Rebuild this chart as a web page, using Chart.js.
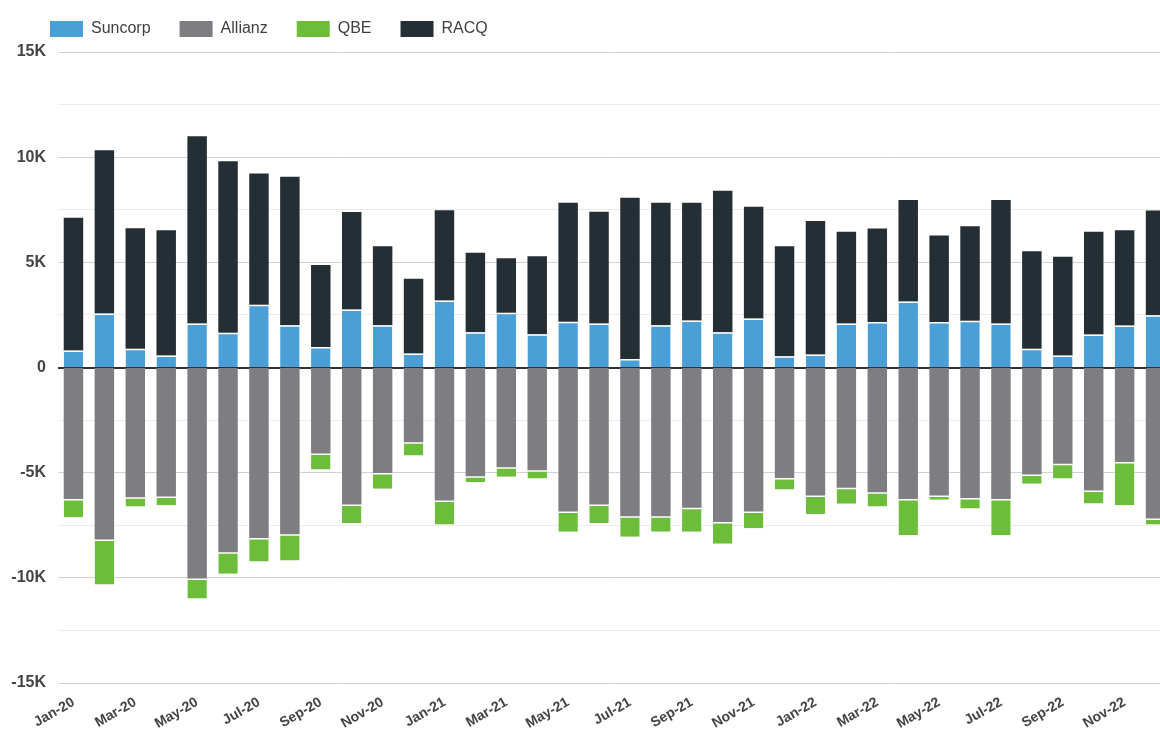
<!DOCTYPE html>
<html>
<head>
<meta charset="utf-8">
<script src="https://cdn.jsdelivr.net/npm/chart.js@4.4.1/dist/chart.umd.min.js"></script>
<style>
  html, body { margin: 0; padding: 0; background: #ffffff; overflow: hidden; }
  #wrap { position: relative; width: 1171px; height: 729px; }
</style>
</head>
<body>
<div id="wrap"><canvas id="c" width="1171" height="729"></canvas></div>
<script>
const categories = [
  'Jan-20','Feb-20','Mar-20','Apr-20','May-20','Jun-20','Jul-20','Aug-20','Sep-20','Oct-20','Nov-20','Dec-20',
  'Jan-21','Feb-21','Mar-21','Apr-21','May-21','Jun-21','Jul-21','Aug-21','Sep-21','Oct-21','Nov-21','Dec-21',
  'Jan-22','Feb-22','Mar-22','Apr-22','May-22','Jun-22','Jul-22','Aug-22','Sep-22','Oct-22','Nov-22','Dec-22'
];
const suncorp = [810,2570,890,570,2090,1650,2980,2010,980,2760,2010,670,
  3190,1680,2600,1580,2170,2090,410,2010,2230,1680,2330,540,
  620,2090,2160,3140,2160,2220,2090,890,570,1570,2000,2490];
const allianz = [-6250,-8180,-6170,-6130,-10030,-8780,-8110,-7930,-4090,-6510,-5010,-3550,
  -6320,-5170,-4740,-4880,-6850,-6510,-7070,-7070,-6670,-7340,-6850,-5250,
  -6090,-5720,-5930,-6250,-6090,-6200,-6250,-5090,-4580,-5850,-4490,-7180];
const qbe = [-870,-2140,-440,-420,-950,-1030,-1110,-1240,-760,-880,-760,-630,
  -1150,-280,-460,-400,-960,-880,-980,-740,-1140,-1040,-790,-550,
  -870,-760,-680,-1720,-200,-500,-1720,-440,-700,-620,-2060,-290];
const racq = [6310,7760,5730,5960,8910,8160,6240,7060,3890,4630,3760,3550,
  4290,3770,2600,3710,5660,5310,7660,5820,5600,6720,5310,5230,
  6340,4360,4450,4820,4120,4500,5870,4640,4690,4880,4530,4980];
const yMin = -15000, yMax = 15000, yStep = 2500;

const colors = { suncorp: '#4a9fd6', allianz: '#7e7d82', qbe: '#6cbd3a', racq: '#242e35' };

function tickLabel(v) {
  if (v % 5000 !== 0) return '';
  if (v === 0) return '0';
  return (v / 1000) + 'K';
}

// shifts the library-drawn legend to the right so it lines up with the plot
const legendOffset = {
  id: 'legendOffset',
  afterLayout(chart) {
    if (chart.legend) { chart.legend.left += 21; chart.legend.right += 21; }
  }
};

new Chart(document.getElementById('c'), {
  type: 'bar',
  data: {
    labels: categories,
    datasets: [
      { label: 'Suncorp', data: suncorp, backgroundColor: colors.suncorp, borderColor: '#ffffff', borderWidth: { top: 1.5 }, borderSkipped: false },
      { label: 'Allianz', data: allianz, backgroundColor: colors.allianz, borderWidth: 0 },
      { label: 'QBE', data: qbe, backgroundColor: colors.qbe, borderColor: '#ffffff', borderWidth: { top: 1.5 }, borderSkipped: false },
      { label: 'RACQ', data: racq, backgroundColor: colors.racq, borderWidth: 0 }
    ]
  },
  plugins: [legendOffset],
  options: {
    responsive: false,
    animation: false,
    layout: { padding: { left: 0, top: -8, right: 0, bottom: 0 } },
    datasets: { bar: { categoryPercentage: 1, barPercentage: 0.63 } },
    plugins: {
      tooltip: { enabled: false },
      legend: {
        position: 'top',
        align: 'start',
        labels: {
          boxWidth: 33,
          boxHeight: 16,
          padding: 29,
          color: '#404040',
          font: { family: "'Liberation Sans', Arial, sans-serif", size: 16 },
          generateLabels(chart) {
            const items = Chart.defaults.plugins.legend.labels.generateLabels(chart);
            items.forEach(it => { it.lineWidth = 0; it.strokeStyle = 'rgba(0,0,0,0)'; });
            return items;
          }
        }
      }
    },
    scales: {
      x: {
        stacked: true,
        grid: { display: false },
        border: { display: false },
        afterFit(scale) { scale.height = 46; },
        ticks: {
          autoSkip: false,
          minRotation: 30,
          maxRotation: 30,
          padding: 3,
          color: '#444444',
          font: { family: "'Liberation Sans', Arial, sans-serif", size: 14, weight: 'bold' },
          callback(value, index) { return index % 2 === 0 ? this.getLabelForValue(value) : ''; }
        }
      },
      xTop: {
        type: 'category',
        position: 'top',
        labels: categories,
        grid: { display: false },
        border: { display: false },
        ticks: { display: false },
        afterFit(scale) { scale.height = 5; }
      },
      y: {
        stacked: true,
        min: yMin,
        max: yMax,
        afterFit(scale) { scale.width = 58; },
        border: { display: false },
        grid: {
          drawTicks: false,
          lineWidth: 1,
          color(ctx) {
            const v = ctx.tick.value;
            if (v === 0) return '#2b3238';
            return v % 5000 === 0 ? '#d2d2d2' : '#ececec';
          }
        },
        ticks: {
          stepSize: yStep,
          padding: 12,
          color: '#444444',
          font: { family: "'Liberation Sans', Arial, sans-serif", size: 16, weight: 'bold' },
          callback: tickLabel
        }
      },
      y2: {
        position: 'left',
        min: yMin,
        max: yMax,
        z: 1,
        afterFit(scale) { scale.width = 0; },
        border: { display: false },
        grid: {
          drawTicks: false,
          lineWidth: 2,
          color(ctx) { return ctx.tick.value === 0 ? '#2b3238' : 'rgba(0,0,0,0)'; }
        },
        ticks: { display: false, stepSize: 5000 }
      }
    }
  }
});
</script>
</body>
</html>
